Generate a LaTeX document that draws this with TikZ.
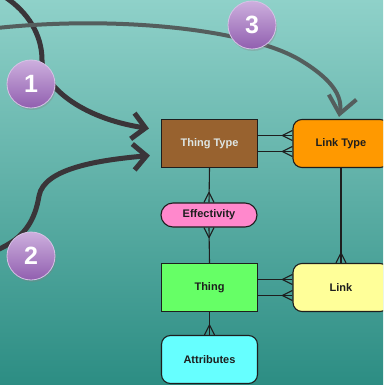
\documentclass[tikz,border=0pt]{standalone}
\usepackage{fontspec}
\setmainfont{Liberation Sans}
\usetikzlibrary{arrows.meta,shadows}

\definecolor{bgtop}{RGB}{143,209,201}
\definecolor{bgbot}{RGB}{44,141,131}
\definecolor{arrowdark}{RGB}{58,53,57}
\definecolor{arrowgray}{RGB}{84,94,93}
\definecolor{badgetop}{RGB}{205,175,222}
\definecolor{badgebot}{RGB}{145,95,175}
\definecolor{badgerim}{RGB}{215,195,230}
\definecolor{brown}{RGB}{152,98,47}
\definecolor{orangefill}{RGB}{255,153,0}
\definecolor{pinkfill}{RGB}{255,136,204}
\definecolor{greenfill}{RGB}{102,255,102}
\definecolor{yellowfill}{RGB}{255,255,153}
\definecolor{cyanfill}{RGB}{102,255,255}
\definecolor{edge}{RGB}{30,30,30}

\begin{document}
\begin{tikzpicture}[x=1pt,y=-1pt,
  entity/.style={draw=edge,line width=1.1pt,minimum width=96pt,minimum height=48pt,
    inner sep=0pt,font=\fontsize{11}{13}\selectfont\bfseries,text=edge},
  soft/.style={entity,rounded corners=9pt},
  rel/.style={draw=edge,line width=1.1pt},
  crow/.pic={\draw[rel] (-10,0) -- (0,5) (-10,0) -- (0,-5);},
  flow/.style={line width=5pt,draw=arrowdark,
    -{Straight Barb[length=13pt,width=26pt]}},
  badge/.style={circle,minimum size=48pt,inner sep=0pt,
    top color=badgetop,bottom color=badgebot,draw=badgerim,line width=0.8pt,
    drop shadow={opacity=0.3,shadow xshift=1pt,shadow yshift=-2pt},
    font=\fontsize{25}{27}\selectfont\bfseries,text=white}
]
\useasboundingbox (0,0) rectangle (383,385);
\clip (0,0) rectangle (383,385);

% backdrop
\shade[top color=bgtop,bottom color=bgbot] (0,0) rectangle (383,385);

% entities
\node[entity,fill=brown,text={rgb,255:red,222;green,230;blue,228}] (tt) at (209.5,143.5) {Thing Type};
\node[soft,fill=orangefill] (lt) at (341,143.5) {Link Type};
\node[entity,fill=pinkfill,minimum height=24pt,rounded corners=12pt] (eff) at (209,215) {Effectivity};
\node[entity,fill=greenfill] (th) at (209.5,287.5) {Thing};
\node[soft,fill=yellowfill] (lk) at (341,287.5) {Link};
\node[soft,fill=cyanfill] (at) at (209.5,359.5) {Attributes};

% relationships
\draw[rel] ([yshift=8pt]tt.east) -- ([yshift=8pt]lt.west);
\draw[rel] ([yshift=-8pt]tt.east) -- ([yshift=-8pt]lt.west);
\pic at ([yshift=8pt]lt.west) {crow};
\pic at ([yshift=-8pt]lt.west) {crow};

\draw[rel] (tt.south) -- (eff.north);
\pic[rotate=-90] at (eff.north) {crow};
\draw[rel] (eff.south) -- (th.north);
\pic[rotate=90] at (eff.south) {crow};

\draw[rel] (lt.south) -- (lk.north);
\pic[rotate=-90] at (lk.north) {crow};

\draw[rel] ([yshift=8pt]th.east) -- ([yshift=8pt]lk.west);
\draw[rel] ([yshift=-8pt]th.east) -- ([yshift=-8pt]lk.west);
\pic at ([yshift=8pt]lk.west) {crow};
\pic at ([yshift=-8pt]lk.west) {crow};

\draw[rel] (th.south) -- (at.north);
\pic[rotate=-90] at (at.north) {crow};

% numbered flows
\coordinate (s1) at (5,-3);
\coordinate (s2) at (-3,250);
\coordinate (s3) at (-3,28);
\coordinate (e1) at ([xshift=-12pt,yshift=15pt]tt.west);
\coordinate (e2) at ([xshift=-11pt,yshift=-12pt]tt.west);
\coordinate (e3) at ([xshift=-2pt,yshift=2pt]lt.north);

\draw[flow] (s1) .. controls (28,12) and (42,35) .. (42,60)
  .. controls (42,85) and (80,118) .. (e1);
\draw[flow] (s2) .. controls (25,238) and (35,220) .. (39,196)
  .. controls (44,168) and (100,160) .. (e2);
\draw[flow,line width=4pt,draw=arrowgray,-{Straight Barb[length=17pt,width=28pt]}]
  (s3) .. controls (120,15) and (250,30) .. (300,60)
  .. controls (330,78) and (343,95) .. (e3);

\node[badge] (b1) at (31,84) {1};
\node[badge] (b2) at (31,256) {2};
\node[badge] (b3) at (252,25) {3};
\end{tikzpicture}
\end{document}
